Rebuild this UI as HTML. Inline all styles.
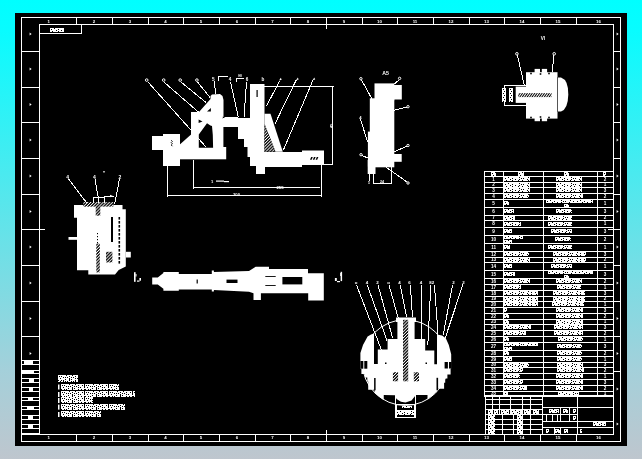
<!DOCTYPE html>
<html><head><meta charset="utf-8"><style>
html,body{margin:0;padding:0;width:642px;height:459px;overflow:hidden;}
body{background:linear-gradient(180deg,#00ffff 0px,#08fcff 30px,#60e4ea 220px,#a4d0da 370px,#bec6ce 459px);}
svg{position:absolute;left:0;top:0;will-change:transform;font-family:"Liberation Sans",sans-serif;}
</style></head><body>
<svg width="642" height="459" viewBox="0 0 642 459">
<rect x="15" y="13" width="612" height="433" fill="#000" />
<rect x="21" y="17" width="600" height="1" fill="#fff"/>
<rect x="21" y="441" width="600" height="1" fill="#fff"/>
<rect x="21" y="17" width="1" height="425" fill="#fff"/>
<rect x="620" y="17" width="1" height="425" fill="#fff"/>
<rect x="39" y="24" width="575" height="1" fill="#fff"/>
<rect x="21" y="434" width="593" height="1" fill="#fff"/>
<rect x="39" y="24" width="1" height="411" fill="#fff"/>
<rect x="613" y="24" width="1" height="411" fill="#fff"/>
<rect x="76" y="17" width="1" height="8" fill="#fff"/>
<rect x="76" y="434" width="1" height="8" fill="#fff"/>
<rect x="112" y="17" width="1" height="8" fill="#fff"/>
<rect x="112" y="434" width="1" height="8" fill="#fff"/>
<rect x="148" y="17" width="1" height="8" fill="#fff"/>
<rect x="148" y="434" width="1" height="8" fill="#fff"/>
<rect x="183" y="17" width="1" height="8" fill="#fff"/>
<rect x="183" y="434" width="1" height="8" fill="#fff"/>
<rect x="219" y="17" width="1" height="8" fill="#fff"/>
<rect x="219" y="434" width="1" height="8" fill="#fff"/>
<rect x="255" y="17" width="1" height="8" fill="#fff"/>
<rect x="255" y="434" width="1" height="8" fill="#fff"/>
<rect x="290" y="17" width="1" height="8" fill="#fff"/>
<rect x="290" y="434" width="1" height="8" fill="#fff"/>
<rect x="326" y="17" width="1" height="8" fill="#fff"/>
<rect x="326" y="434" width="1" height="8" fill="#fff"/>
<rect x="362" y="17" width="1" height="8" fill="#fff"/>
<rect x="362" y="434" width="1" height="8" fill="#fff"/>
<rect x="397" y="17" width="1" height="8" fill="#fff"/>
<rect x="397" y="434" width="1" height="8" fill="#fff"/>
<rect x="433" y="17" width="1" height="8" fill="#fff"/>
<rect x="433" y="434" width="1" height="8" fill="#fff"/>
<rect x="469" y="17" width="1" height="8" fill="#fff"/>
<rect x="469" y="434" width="1" height="8" fill="#fff"/>
<rect x="504" y="17" width="1" height="8" fill="#fff"/>
<rect x="504" y="434" width="1" height="8" fill="#fff"/>
<rect x="540" y="17" width="1" height="8" fill="#fff"/>
<rect x="540" y="434" width="1" height="8" fill="#fff"/>
<rect x="576" y="17" width="1" height="8" fill="#fff"/>
<rect x="576" y="434" width="1" height="8" fill="#fff"/>
<rect x="326" y="24" width="1" height="5" fill="#fff"/>
<rect x="326" y="430" width="1" height="5" fill="#fff"/>
<rect x="21" y="51" width="19" height="1" fill="#fff"/>
<rect x="613" y="51" width="8" height="1" fill="#fff"/>
<rect x="21" y="87" width="19" height="1" fill="#fff"/>
<rect x="613" y="87" width="8" height="1" fill="#fff"/>
<rect x="21" y="122" width="19" height="1" fill="#fff"/>
<rect x="613" y="122" width="8" height="1" fill="#fff"/>
<rect x="21" y="158" width="19" height="1" fill="#fff"/>
<rect x="613" y="158" width="8" height="1" fill="#fff"/>
<rect x="21" y="194" width="19" height="1" fill="#fff"/>
<rect x="613" y="194" width="8" height="1" fill="#fff"/>
<rect x="21" y="229" width="19" height="1" fill="#fff"/>
<rect x="613" y="229" width="8" height="1" fill="#fff"/>
<rect x="21" y="265" width="19" height="1" fill="#fff"/>
<rect x="613" y="265" width="8" height="1" fill="#fff"/>
<rect x="21" y="301" width="19" height="1" fill="#fff"/>
<rect x="613" y="301" width="8" height="1" fill="#fff"/>
<rect x="21" y="336" width="19" height="1" fill="#fff"/>
<rect x="613" y="336" width="8" height="1" fill="#fff"/>
<rect x="39" y="229" width="6" height="1" fill="#fff"/>
<rect x="608" y="229" width="6" height="1" fill="#fff"/>
<text x="48.8" y="22.6" font-size="4.4" fill="#fff" text-anchor="middle" font-weight="bold">1</text>
<text x="48.8" y="439.2" font-size="4.4" fill="#fff" text-anchor="middle" font-weight="bold">1</text>
<text x="94.0" y="22.6" font-size="4.4" fill="#fff" text-anchor="middle" font-weight="bold">2</text>
<text x="94.0" y="439.2" font-size="4.4" fill="#fff" text-anchor="middle" font-weight="bold">2</text>
<text x="130.0" y="22.6" font-size="4.4" fill="#fff" text-anchor="middle" font-weight="bold">3</text>
<text x="130.0" y="439.2" font-size="4.4" fill="#fff" text-anchor="middle" font-weight="bold">3</text>
<text x="165.5" y="22.6" font-size="4.4" fill="#fff" text-anchor="middle" font-weight="bold">4</text>
<text x="165.5" y="439.2" font-size="4.4" fill="#fff" text-anchor="middle" font-weight="bold">4</text>
<text x="201.0" y="22.6" font-size="4.4" fill="#fff" text-anchor="middle" font-weight="bold">5</text>
<text x="201.0" y="439.2" font-size="4.4" fill="#fff" text-anchor="middle" font-weight="bold">5</text>
<text x="237.0" y="22.6" font-size="4.4" fill="#fff" text-anchor="middle" font-weight="bold">6</text>
<text x="237.0" y="439.2" font-size="4.4" fill="#fff" text-anchor="middle" font-weight="bold">6</text>
<text x="272.5" y="22.6" font-size="4.4" fill="#fff" text-anchor="middle" font-weight="bold">7</text>
<text x="272.5" y="439.2" font-size="4.4" fill="#fff" text-anchor="middle" font-weight="bold">7</text>
<text x="308.0" y="22.6" font-size="4.4" fill="#fff" text-anchor="middle" font-weight="bold">8</text>
<text x="308.0" y="439.2" font-size="4.4" fill="#fff" text-anchor="middle" font-weight="bold">8</text>
<text x="344.0" y="22.6" font-size="4.4" fill="#fff" text-anchor="middle" font-weight="bold">9</text>
<text x="344.0" y="439.2" font-size="4.4" fill="#fff" text-anchor="middle" font-weight="bold">9</text>
<text x="379.5" y="22.6" font-size="4.4" fill="#fff" text-anchor="middle" font-weight="bold">10</text>
<text x="379.5" y="439.2" font-size="4.4" fill="#fff" text-anchor="middle" font-weight="bold">10</text>
<text x="415.0" y="22.6" font-size="4.4" fill="#fff" text-anchor="middle" font-weight="bold">11</text>
<text x="415.0" y="439.2" font-size="4.4" fill="#fff" text-anchor="middle" font-weight="bold">11</text>
<text x="451.0" y="22.6" font-size="4.4" fill="#fff" text-anchor="middle" font-weight="bold">12</text>
<text x="451.0" y="439.2" font-size="4.4" fill="#fff" text-anchor="middle" font-weight="bold">12</text>
<text x="486.5" y="22.6" font-size="4.4" fill="#fff" text-anchor="middle" font-weight="bold">13</text>
<text x="486.5" y="439.2" font-size="4.4" fill="#fff" text-anchor="middle" font-weight="bold">13</text>
<text x="522.0" y="22.6" font-size="4.4" fill="#fff" text-anchor="middle" font-weight="bold">14</text>
<text x="522.0" y="439.2" font-size="4.4" fill="#fff" text-anchor="middle" font-weight="bold">14</text>
<text x="558.0" y="22.6" font-size="4.4" fill="#fff" text-anchor="middle" font-weight="bold">15</text>
<text x="558.0" y="439.2" font-size="4.4" fill="#fff" text-anchor="middle" font-weight="bold">15</text>
<text x="598.5" y="22.6" font-size="4.4" fill="#fff" text-anchor="middle" font-weight="bold">16</text>
<text x="598.5" y="439.2" font-size="4.4" fill="#fff" text-anchor="middle" font-weight="bold">16</text>
<path d="M29.6,32.4 l2,1.6 l-2,1.6 z" fill="#fff"/>
<path d="M616.6,32.4 l2,1.6 l-2,1.6 z" fill="#fff"/>
<path d="M29.6,67.4 l2,1.6 l-2,1.6 z" fill="#fff"/>
<path d="M616.6,67.4 l2,1.6 l-2,1.6 z" fill="#fff"/>
<path d="M29.6,102.9 l2,1.6 l-2,1.6 z" fill="#fff"/>
<path d="M616.6,102.9 l2,1.6 l-2,1.6 z" fill="#fff"/>
<path d="M29.6,138.4 l2,1.6 l-2,1.6 z" fill="#fff"/>
<path d="M616.6,138.4 l2,1.6 l-2,1.6 z" fill="#fff"/>
<path d="M29.6,174.4 l2,1.6 l-2,1.6 z" fill="#fff"/>
<path d="M616.6,174.4 l2,1.6 l-2,1.6 z" fill="#fff"/>
<path d="M29.6,209.9 l2,1.6 l-2,1.6 z" fill="#fff"/>
<path d="M616.6,209.9 l2,1.6 l-2,1.6 z" fill="#fff"/>
<path d="M29.6,245.4 l2,1.6 l-2,1.6 z" fill="#fff"/>
<path d="M616.6,245.4 l2,1.6 l-2,1.6 z" fill="#fff"/>
<path d="M29.6,281.4 l2,1.6 l-2,1.6 z" fill="#fff"/>
<path d="M616.6,281.4 l2,1.6 l-2,1.6 z" fill="#fff"/>
<path d="M29.6,316.9 l2,1.6 l-2,1.6 z" fill="#fff"/>
<path d="M616.6,316.9 l2,1.6 l-2,1.6 z" fill="#fff"/>
<path d="M29.6,351.9 l2,1.6 l-2,1.6 z" fill="#fff"/>
<path d="M616.6,351.9 l2,1.6 l-2,1.6 z" fill="#fff"/>
<path d="M616.6,387.4 l2,1.6 l-2,1.6 z" fill="#fff"/>
<path d="M616.6,422.4 l2,1.6 l-2,1.6 z" fill="#fff"/>
<rect x="613" y="371" width="8" height="1" fill="#fff"/>
<rect x="39" y="33" width="43" height="1" fill="#fff"/>
<rect x="81" y="24" width="1" height="10" fill="#fff"/>
<rect x="22" y="360" width="18" height="1" fill="#fff"/>
<rect x="22" y="364" width="18" height="1" fill="#fff"/>
<rect x="22" y="370" width="18" height="1" fill="#fff"/>
<rect x="22" y="373" width="18" height="1" fill="#fff"/>
<rect x="22" y="378" width="18" height="1" fill="#fff"/>
<rect x="22" y="382" width="18" height="1" fill="#fff"/>
<rect x="22" y="387" width="18" height="1" fill="#fff"/>
<rect x="22" y="391" width="18" height="1" fill="#fff"/>
<rect x="22" y="397" width="18" height="1" fill="#fff"/>
<rect x="22" y="400" width="18" height="1" fill="#fff"/>
<rect x="22" y="406" width="18" height="1" fill="#fff"/>
<rect x="22" y="409" width="18" height="1" fill="#fff"/>
<rect x="22" y="415" width="18" height="1" fill="#fff"/>
<rect x="22" y="419" width="18" height="1" fill="#fff"/>
<rect x="22" y="424" width="18" height="1" fill="#fff"/>
<rect x="22" y="428" width="18" height="1" fill="#fff"/>
<rect x="22" y="433" width="18" height="1" fill="#fff"/>
<rect x="24" y="361" width="9" height="3" fill="#fff" />
<rect x="22" y="371" width="12" height="2" fill="#fff" />
<rect x="29" y="379" width="5" height="3" fill="#fff" />
<rect x="29" y="388" width="4" height="3" fill="#fff" />
<rect x="28" y="398" width="5" height="2" fill="#fff" />
<rect x="27" y="407" width="7" height="2" fill="#fff" />
<rect x="28" y="416" width="5" height="3" fill="#fff" />
<rect x="28" y="425" width="5" height="3" fill="#fff" />
<defs><pattern id="tx" patternUnits="userSpaceOnUse" x="0" y="0" width="30" height="4"><rect width="30" height="4" fill="#000"/><rect x="0" y="0" width="4" height="1" fill="#fff"/><rect x="5" y="0" width="10" height="1" fill="#fff"/><rect x="16" y="0" width="8" height="1" fill="#fff"/><rect x="25" y="0" width="5" height="1" fill="#fff"/><rect x="0" y="1" width="1" height="1" fill="#fff"/><rect x="2" y="1" width="6" height="1" fill="#fff"/><rect x="9" y="1" width="8" height="1" fill="#fff"/><rect x="18" y="1" width="1" height="1" fill="#fff"/><rect x="20" y="1" width="7" height="1" fill="#fff"/><rect x="28" y="1" width="2" height="1" fill="#fff"/><rect x="0" y="2" width="6" height="1" fill="#fff"/><rect x="7" y="2" width="4" height="1" fill="#fff"/><rect x="12" y="2" width="3" height="1" fill="#fff"/><rect x="16" y="2" width="7" height="1" fill="#fff"/><rect x="24" y="2" width="6" height="1" fill="#fff"/><rect x="0" y="3" width="2" height="1" fill="#fff"/><rect x="3" y="3" width="5" height="1" fill="#fff"/><rect x="9" y="3" width="5" height="1" fill="#fff"/><rect x="15" y="3" width="3" height="1" fill="#fff"/><rect x="19" y="3" width="5" height="1" fill="#fff"/><rect x="25" y="3" width="2" height="1" fill="#fff"/><rect x="28" y="3" width="2" height="1" fill="#fff"/></pattern><pattern id="cjk" patternUnits="userSpaceOnUse" x="0" y="0" width="24" height="7"><rect width="24" height="7" fill="#000"/><rect x="0" y="0" width="8" height="1" fill="#fff"/><rect x="9" y="0" width="5" height="1" fill="#fff"/><rect x="15" y="0" width="8" height="1" fill="#fff"/><rect x="0" y="1" width="1" height="1" fill="#fff"/><rect x="2" y="1" width="1" height="1" fill="#fff"/><rect x="4" y="1" width="7" height="1" fill="#fff"/><rect x="12" y="1" width="5" height="1" fill="#fff"/><rect x="18" y="1" width="3" height="1" fill="#fff"/><rect x="22" y="1" width="1" height="1" fill="#fff"/><rect x="0" y="2" width="5" height="1" fill="#fff"/><rect x="6" y="2" width="1" height="1" fill="#fff"/><rect x="8" y="2" width="1" height="1" fill="#fff"/><rect x="10" y="2" width="3" height="1" fill="#fff"/><rect x="14" y="2" width="1" height="1" fill="#fff"/><rect x="16" y="2" width="7" height="1" fill="#fff"/><rect x="0" y="3" width="2" height="1" fill="#fff"/><rect x="3" y="3" width="8" height="1" fill="#fff"/><rect x="12" y="3" width="5" height="1" fill="#fff"/><rect x="18" y="3" width="1" height="1" fill="#fff"/><rect x="20" y="3" width="3" height="1" fill="#fff"/><rect x="0" y="4" width="7" height="1" fill="#fff"/><rect x="8" y="4" width="3" height="1" fill="#fff"/><rect x="12" y="4" width="1" height="1" fill="#fff"/><rect x="14" y="4" width="10" height="1" fill="#fff"/><rect x="1" y="5" width="2" height="1" fill="#fff"/><rect x="4" y="5" width="1" height="1" fill="#fff"/><rect x="6" y="5" width="5" height="1" fill="#fff"/><rect x="12" y="5" width="5" height="1" fill="#fff"/><rect x="18" y="5" width="2" height="1" fill="#fff"/><rect x="21" y="5" width="2" height="1" fill="#fff"/><rect x="0" y="6" width="2" height="1" fill="#fff"/><rect x="3" y="6" width="2" height="1" fill="#fff"/><rect x="6" y="6" width="1" height="1" fill="#fff"/><rect x="8" y="6" width="1" height="1" fill="#fff"/><rect x="10" y="6" width="3" height="1" fill="#fff"/><rect x="14" y="6" width="1" height="1" fill="#fff"/><rect x="16" y="6" width="1" height="1" fill="#fff"/><rect x="18" y="6" width="2" height="1" fill="#fff"/><rect x="21" y="6" width="2" height="1" fill="#fff"/></pattern></defs>
<g transform="translate(50,28)"><rect width="14" height="4" fill="url(#tx)"/></g>
<rect x="152" y="136" width="12" height="14" fill="#fff" />
<rect x="163" y="134" width="17" height="32" fill="#fff" />
<polygon points="179.5,144.8 190.8,134.8 192,134.8 192,147 179.5,147" fill="#fff" />
<rect x="178" y="147" width="48.2" height="12.3" fill="#fff" />
<polygon points="191,112 199,112 210.5,99 210.5,96 212,94.5 220,94 222.5,96 223.5,100 223.5,117 238,117 238,127 223.4,127 223.4,159 191,159" fill="#fff" />
<polygon points="198.8,134.5 207,123.2 210.4,125.5 212,126 212.8,135 213.1,147.7 198.8,147.7" fill="#000" />
<polygon points="198.6,119.5 202.5,121.5 198.6,123" fill="#000" />
<polygon points="207,111.6 210.9,108 210.9,111.6" fill="#000" />
<polygon points="222.8,116.5 226,118.5 222.8,119" fill="#000" />
<rect x="223" y="118" width="27" height="9" fill="#fff" />
<rect x="238" y="127" width="12" height="12" fill="#fff" />
<rect x="244" y="139" width="6" height="8" fill="#fff" />
<rect x="247.5" y="147" width="3" height="10" fill="#fff" />
<rect x="250" y="84" width="14.5" height="82" fill="#fff" />
<rect x="264" y="152" width="38" height="15" fill="#fff" />
<rect x="302" y="150.5" width="22" height="14.5" fill="#fff" />
<rect x="256" y="166" width="9" height="8" fill="#fff" />
<polygon points="264.5,113.8 270.5,113.8 282.8,151.8 275.5,151.8 264.5,124" fill="#fff" />
<defs><pattern id="hat" patternUnits="userSpaceOnUse" width="2.2" height="2.2" patternTransform="rotate(-45)"><rect width="2.2" height="2.2" fill="#000"/><rect width="2.2" height="0.9" fill="#fff"/></pattern><pattern id="hat2" patternUnits="userSpaceOnUse" width="2" height="2" patternTransform="rotate(-55)"><rect width="2" height="2" fill="#000"/><rect width="2" height="1" fill="#fff"/></pattern></defs>
<polygon points="264.5,124 264.5,151.8 275.5,151.8" fill="url(#hat)" />
<rect x="256.5" y="90" width="1.2" height="7" fill="#000" />
<path d="M310,159.8 l1.2,-2.9 l1.6,0 l-1.2,2.9 z" fill="#000"/>
<path d="M312.8,159.8 l1.2,-2.9 l1.6,0 l-1.2,2.9 z" fill="#000"/>
<path d="M315.6,159.8 l1.2,-2.9 l1.6,0 l-1.2,2.9 z" fill="#000"/>
<path d="M171.2,140.2 l1.2,1.2 l-1.2,1.2 l1.2,1.2 l-1.2,1.2 l1.2,1.2" stroke="#000" stroke-width="0.9" fill="none"/>
<line x1="148" y1="82" x2="206.5" y2="147.5" stroke="#fff" stroke-width="1" shape-rendering="crispEdges"/>
<line x1="164.5" y1="82.5" x2="199" y2="112.5" stroke="#fff" stroke-width="1" shape-rendering="crispEdges"/>
<line x1="181" y1="82" x2="206" y2="102.5" stroke="#fff" stroke-width="1" shape-rendering="crispEdges"/>
<line x1="197.5" y1="82" x2="210" y2="97.5" stroke="#fff" stroke-width="1" shape-rendering="crispEdges"/>
<line x1="214" y1="81" x2="216" y2="94" stroke="#fff" stroke-width="1" shape-rendering="crispEdges"/>
<line x1="230.5" y1="82" x2="238.4" y2="117.5" stroke="#fff" stroke-width="1" shape-rendering="crispEdges"/>
<line x1="246.5" y1="82" x2="244" y2="117.5" stroke="#fff" stroke-width="1" shape-rendering="crispEdges"/>
<line x1="279.7" y1="80.8" x2="266.5" y2="106" stroke="#fff" stroke-width="1" shape-rendering="crispEdges"/>
<line x1="296.4" y1="79.6" x2="274.9" y2="124" stroke="#fff" stroke-width="1" shape-rendering="crispEdges"/>
<line x1="313.2" y1="79.6" x2="283.3" y2="150.2" stroke="#fff" stroke-width="1" shape-rendering="crispEdges"/>
<circle cx="146.7" cy="80.1" r="1.3" fill="none" stroke="#fff" stroke-width="1"/>
<circle cx="163.7" cy="80.1" r="1.3" fill="none" stroke="#fff" stroke-width="1"/>
<circle cx="180.2" cy="80.1" r="1.3" fill="none" stroke="#fff" stroke-width="1"/>
<circle cx="196.9" cy="80.1" r="1.3" fill="none" stroke="#fff" stroke-width="1"/>
<text x="213.3" y="80.96" font-size="4.6" fill="#fff" text-anchor="middle" font-weight="bold">5</text>
<text x="230" y="81.16" font-size="4.6" fill="#fff" text-anchor="middle" font-weight="bold">4</text>
<text x="247" y="81.16" font-size="4.6" fill="#fff" text-anchor="middle" font-weight="bold">6</text>
<text x="263" y="81.16" font-size="4.6" fill="#fff" text-anchor="middle" font-weight="bold">b</text>
<path d="M279.0,80.4 L280.8,77.7 L281.7,79.7 Z" fill="#fff"/>
<path d="M296.0,80.2 L297.8,77.5 L298.7,79.5 Z" fill="#fff"/>
<path d="M312.5,80.2 L314.3,77.5 L315.2,79.5 Z" fill="#fff"/>
<text x="240" y="76.8" font-size="2.8" fill="#fff" text-anchor="middle" font-weight="bold" >H8</text>
<rect x="236" y="78" width="8" height="1" fill="#fff"/>
<rect x="236" y="78" width="1" height="4" fill="#fff"/>
<rect x="218" y="76" width="10" height="1" fill="#fff"/>
<rect x="218" y="76" width="1" height="5" fill="#fff"/>
<rect x="264" y="86" width="70" height="1" fill="#fff"/>
<rect x="332" y="86" width="1" height="79" fill="#fff"/>
<rect x="322" y="164" width="11" height="1" fill="#fff"/>
<text x="332.5" y="126" font-size="4.2" fill="#fff" text-anchor="middle" font-weight="bold" transform="rotate(-90 332.5 126)">45</text>
<rect x="193" y="187" width="127" height="1" fill="#fff"/>
<rect x="167" y="195" width="155" height="1" fill="#fff"/>
<rect x="167" y="166" width="1" height="31" fill="#fff"/>
<rect x="193" y="160" width="1" height="29" fill="#fff"/>
<rect x="321" y="165" width="1" height="32" fill="#fff"/>
<text x="280" y="189" font-size="4.2" fill="#fff" text-anchor="middle" font-weight="bold" >255</text>
<text x="236.5" y="195.5" font-size="4.2" fill="#fff" text-anchor="middle" font-weight="bold" >300</text>
<text x="212" y="182.6" font-size="4" fill="#fff" text-anchor="middle" font-weight="bold" >1</text>
<rect x="216" y="180.5" width="8" height="1.2" fill="#fff" />
<rect x="224" y="181" width="5" height="1.2" fill="#fff" />
<rect x="374.5" y="83.4" width="19.8" height="17" fill="#fff" />
<rect x="393" y="85" width="8.8" height="14.5" fill="#fff" />
<rect x="369.8" y="98.3" width="24.5" height="69" fill="#fff" />
<rect x="367.9" y="131.6" width="3" height="35" fill="#fff" />
<rect x="393.9" y="154" width="7.8" height="7.8" fill="#fff" />
<rect x="367.7" y="160" width="7.8" height="14" fill="#fff" />
<line x1="361.5" y1="80" x2="372" y2="99" stroke="#fff" stroke-width="1" shape-rendering="crispEdges"/>
<line x1="399" y1="80" x2="393.2" y2="84.8" stroke="#fff" stroke-width="1" shape-rendering="crispEdges"/>
<line x1="407" y1="107" x2="394" y2="110.3" stroke="#fff" stroke-width="1" shape-rendering="crispEdges"/>
<line x1="360.5" y1="119" x2="367.5" y2="142" stroke="#fff" stroke-width="1" shape-rendering="crispEdges"/>
<line x1="362" y1="155.5" x2="368" y2="158" stroke="#fff" stroke-width="1" shape-rendering="crispEdges"/>
<line x1="407" y1="146" x2="394" y2="152" stroke="#fff" stroke-width="1" shape-rendering="crispEdges"/>
<line x1="407" y1="182" x2="383" y2="165" stroke="#fff" stroke-width="1" shape-rendering="crispEdges"/>
<line x1="369" y1="181" x2="370" y2="174" stroke="#fff" stroke-width="1" shape-rendering="crispEdges"/>
<circle cx="360.9" cy="78.7" r="1.2" fill="none" stroke="#fff" stroke-width="1"/>
<circle cx="399.6" cy="78.4" r="1.2" fill="none" stroke="#fff" stroke-width="1"/>
<circle cx="408" cy="106.7" r="1.2" fill="none" stroke="#fff" stroke-width="1"/>
<circle cx="361" cy="154.7" r="1.2" fill="none" stroke="#fff" stroke-width="1"/>
<circle cx="408" cy="145.5" r="1.2" fill="none" stroke="#fff" stroke-width="1"/>
<circle cx="408" cy="183" r="1.2" fill="none" stroke="#fff" stroke-width="1"/>
<text x="360.5" y="118.81" font-size="4.2" fill="#fff" text-anchor="middle" font-weight="bold">4</text>
<text x="369" y="184.01" font-size="4.2" fill="#fff" text-anchor="middle" font-weight="bold">1</text>
<text x="385.5" y="75.37" font-size="5.2" fill="#fff" text-anchor="middle" font-weight="bold">A5</text>
<rect x="373" y="167" width="1" height="17" fill="#fff"/>
<rect x="391" y="166" width="1" height="18" fill="#fff"/>
<rect x="373" y="183" width="19" height="1" fill="#fff"/>
<text x="382" y="182.6" font-size="3.6" fill="#fff" text-anchor="middle" font-weight="bold" >24</text>
<text x="543" y="40.16" font-size="4.6" fill="#fff" text-anchor="middle" font-weight="bold">VI</text>
<line x1="517.5" y1="55.5" x2="524.2" y2="85" stroke="#fff" stroke-width="1" shape-rendering="crispEdges"/>
<line x1="554" y1="55.5" x2="552.1" y2="72.4" stroke="#fff" stroke-width="1" shape-rendering="crispEdges"/>
<circle cx="516.9" cy="53.8" r="1.3" fill="none" stroke="#fff" stroke-width="1"/>
<circle cx="554.2" cy="53.8" r="1.3" fill="none" stroke="#fff" stroke-width="1"/>
<rect x="526" y="72.2" width="31.5" height="46.4" fill="#fff" />
<rect x="534.6" y="68.9" width="5.4" height="4" fill="#fff" />
<rect x="541.8" y="68.9" width="5.3" height="4" fill="#fff" />
<rect x="534.6" y="118" width="5.4" height="3.2" fill="#fff" />
<rect x="541.8" y="118" width="5.3" height="3.2" fill="#fff" />
<path d="M557.5,77.4 L561,77.4 Q568.5,80 568.3,94.4 Q568,109 561,111.4 L557.5,111.4 Z" fill="#fff"/>
<rect x="557" y="77" width="1" height="35" fill="#555"/>
<rect x="515.7" y="86.6" width="11" height="16.3" fill="#fff" />
<rect x="518.3" y="93.1" width="33.3" height="4" fill="url(#hat2)" />
<rect x="504" y="85" width="23" height="1" fill="#fff"/>
<rect x="504" y="105" width="23" height="1" fill="#fff"/>
<rect x="504" y="85" width="1" height="21" fill="#fff"/>
<g transform="translate(502,88)"><rect width="4" height="14" fill="url(#tx)"/></g>
<g transform="translate(509,88)"><rect width="4" height="14" fill="url(#tx)"/></g>
<rect x="530.2" y="72.7" width="1.6" height="1.6" fill="#000" />
<rect x="539.7" y="73.2" width="1.6" height="1.6" fill="#000" />
<rect x="548.2" y="72.7" width="1.6" height="1.6" fill="#000" />
<rect x="530.2" y="116.7" width="1.6" height="1.6" fill="#000" />
<rect x="539.7" y="116.2" width="1.6" height="1.6" fill="#000" />
<rect x="548.2" y="116.7" width="1.6" height="1.6" fill="#000" />
<polygon points="74,205 122.5,205 122.5,209.2 125.8,209.2 125.8,266.5 118.7,270 115,274.5 88.3,274.5 88.3,270.2 77,270.2 77,217.7 74,217.7" fill="#fff" />
<rect x="125.8" y="251.8" width="5" height="5.7" fill="#fff" />
<rect x="68.5" y="237" width="8.5" height="2.8" fill="#fff" />
<rect x="83.3" y="202" width="30" height="4.6" fill="url(#hat)" />
<rect x="95.7" y="205" width="4.6" height="10.7" fill="url(#hat)" />
<rect x="96.3" y="243.6" width="3.5" height="28.8" fill="url(#hat)" />
<rect x="97" y="233" width="1" height="1.2" fill="#000" />
<rect x="97" y="236" width="1" height="1.2" fill="#000" />
<rect x="97" y="239" width="1" height="1.2" fill="#000" />
<rect x="97" y="242" width="1" height="1.2" fill="#000" />
<rect x="106" y="251.8" width="6.4" height="10.6" fill="url(#hat)" />
<rect x="111" y="217" width="2" height="25" fill="#000" />
<rect x="118.5" y="217" width="1.6" height="2.6" fill="#000" />
<rect x="118.5" y="221" width="1.6" height="2.6" fill="#000" />
<rect x="118.5" y="225" width="1.6" height="2.6" fill="#000" />
<rect x="118.5" y="229" width="1.6" height="2.6" fill="#000" />
<rect x="118.5" y="233" width="1.6" height="2.6" fill="#000" />
<rect x="118.5" y="237" width="1.6" height="2.6" fill="#000" />
<rect x="118.5" y="241" width="1.6" height="2.6" fill="#000" />
<rect x="118.5" y="245" width="1.6" height="2.6" fill="#000" />
<rect x="118.5" y="249" width="1.6" height="2.6" fill="#000" />
<rect x="118.5" y="253" width="1.6" height="2.6" fill="#000" />
<rect x="118.5" y="257" width="1.6" height="2.6" fill="#000" />
<rect x="118.5" y="261" width="1.6" height="2.6" fill="#000" />
<rect x="93" y="197" width="12" height="1" fill="#fff"/>
<rect x="93" y="197" width="1" height="6" fill="#fff"/>
<rect x="104" y="197" width="1" height="6" fill="#fff"/>
<rect x="98" y="197" width="1" height="6" fill="#fff"/>
<line x1="68.5" y1="179" x2="86.5" y2="202.6" stroke="#fff" stroke-width="1" shape-rendering="crispEdges"/>
<line x1="95" y1="179" x2="98.3" y2="198" stroke="#fff" stroke-width="1" shape-rendering="crispEdges"/>
<line x1="119.5" y1="179" x2="114.6" y2="204" stroke="#fff" stroke-width="1" shape-rendering="crispEdges"/>
<text x="67.6" y="179.00" font-size="5" fill="#fff" text-anchor="middle" font-weight="bold">4</text>
<text x="94.4" y="179.00" font-size="5" fill="#fff" text-anchor="middle" font-weight="bold">4</text>
<text x="119.9" y="179.00" font-size="5" fill="#fff" text-anchor="middle" font-weight="bold">2</text>
<text x="104.2" y="175.10" font-size="5" fill="#fff" text-anchor="middle" font-weight="bold">"</text>
<rect x="104" y="196" width="10" height="1" fill="#fff"/>
<path d="M110,194.8 l3,1.2 l-3,1.2 z" fill="#fff"/>
<rect x="134" y="272.2" width="1.6" height="9.6" fill="#fff" />
<rect x="135.5" y="274" width="1" height="2.5" fill="#fff" />
<rect x="139.4" y="278" width="1.6" height="2.7" fill="#fff" />
<rect x="137" y="280.5" width="2.5" height="1.2" fill="#fff" />
<polygon points="152.2,277.5 157.8,277.5 163.4,273 163.4,271.9 178.8,271.9 178.8,274 211.8,274 211.8,270.5 213.9,270.5 213.9,271.9 249,271.1 255.7,266.7 269,266.7 269,268.9 308,268.9 308,273.3 323.8,273.3 323.8,300.5 308.2,300.5 308.2,293.3 260.9,293.3 260.9,300 253.5,300 253.5,293.3 249,291.8 213.9,290.1 213.9,291.5 211.8,291.5 211.8,289.4 178.8,289.4 178.8,290.8 163.4,290.8 163.4,288.7 157.8,284.5 152.2,284.5" fill="#fff" />
<rect x="226.5" y="279.6" width="11" height="3.4" fill="#000" />
<rect x="196.6" y="279.5" width="1.2" height="4" fill="#000" />
<rect x="282.4" y="277" width="19.9" height="7.4" fill="#000" />
<rect x="265.3" y="276" width="10.4" height="0.9" fill="#000" />
<rect x="265.3" y="285" width="10.4" height="0.9" fill="#000" />
<rect x="340.6" y="271.8" width="1.5" height="9.3" fill="#fff" />
<rect x="340" y="273" width="0.8" height="3" fill="#fff" />
<rect x="334.9" y="278" width="1.9" height="3" fill="#fff" />
<rect x="337" y="281" width="3" height="1.2" fill="#fff" />
<circle cx="405.3" cy="362.6" r="42.9" fill="none" stroke="#fff" stroke-width="1"/>
<polygon points="396,317.6 416,317.6 416,322 414.6,322 414.6,339 425.2,339 425.2,350.4 434.3,350.4 434.3,364.2 437,364.2 437,334.4 442,335.5 445.8,338.2 448.8,345.1 451.2,354.2 451.2,368.5 450.6,368.5 450.6,374.5 447.4,374.5 447.4,378.4 445.2,378.4 445.2,382.7 444.1,382.7 444.1,388.7 437.5,388.7 437.5,390.8 432,396 427.5,399.3 427.5,395 416.25,395 415.7,395.2 413.9,397.5 411.5,400.5 405.5,402.5 401,401.7 396.5,399 395.1,395.2 383.75,395 383.75,399.9 379,396.8 374.6,393 374.6,389.8 368.2,389.8 368.2,381.5 367.3,381.5 367.3,377.5 364.8,377.5 364.8,374.1 361.4,374.1 361.4,368.7 360.4,368.7 360.4,352.9 363,345 367.6,336.5 371,334.4 374,333.5 374,364 377.8,364 377.8,349.6 387.6,349.6 387.6,339 397.4,339 397.4,322 396,322" fill="#fff" />
<rect x="360.4" y="361" width="2.9" height="7.7" fill="#000" />
<rect x="364.3" y="361" width="3" height="7.7" fill="#000" />
<rect x="444.6" y="362" width="3.3" height="6.5" fill="#000" />
<rect x="449" y="362" width="2.7" height="6.5" fill="#000" />
<rect x="403" y="319.8" width="5.2" height="61.5" fill="url(#hat)" />
<rect x="392.9" y="372.2" width="5.2" height="9.1" fill="url(#hat)" />
<rect x="413.8" y="372.2" width="5.2" height="9.1" fill="url(#hat)" />
<rect x="385" y="362.5" width="1.5" height="1.5" fill="#000" />
<rect x="425.5" y="362.5" width="1.5" height="1.5" fill="#000" />
<rect x="374.1" y="378" width="1.5" height="12.3" fill="#000" />
<rect x="436.5" y="377.8" width="1.6" height="12.5" fill="#000" />
<rect x="395" y="395" width="1" height="23" fill="#fff"/>
<rect x="396" y="404" width="1" height="14" fill="#fff"/>
<rect x="414" y="404" width="1" height="14" fill="#fff"/>
<rect x="415" y="395" width="1" height="23" fill="#fff"/>
<rect x="395" y="404" width="21" height="1" fill="#fff"/>
<rect x="395" y="410" width="21" height="1" fill="#fff"/>
<rect x="395" y="417" width="21" height="1" fill="#fff"/>
<g transform="translate(402,406)"><rect width="10" height="2" fill="url(#tx)"/></g>
<g transform="translate(396,411)"><rect width="18" height="4" fill="url(#tx)"/></g>
<line x1="356.5" y1="285" x2="381.3" y2="349.6" stroke="#fff" stroke-width="1" shape-rendering="crispEdges"/>
<line x1="367.3" y1="285" x2="387" y2="340.5" stroke="#fff" stroke-width="1" shape-rendering="crispEdges"/>
<line x1="378" y1="285" x2="392.7" y2="338.3" stroke="#fff" stroke-width="1" shape-rendering="crispEdges"/>
<line x1="389" y1="285" x2="398.1" y2="317.7" stroke="#fff" stroke-width="1" shape-rendering="crispEdges"/>
<line x1="400.1" y1="284.6" x2="406.7" y2="317.4" stroke="#fff" stroke-width="1" shape-rendering="crispEdges"/>
<line x1="410.3" y1="284.6" x2="412.5" y2="317.4" stroke="#fff" stroke-width="1" shape-rendering="crispEdges"/>
<line x1="421.6" y1="284.6" x2="421.6" y2="338.6" stroke="#fff" stroke-width="1" shape-rendering="crispEdges"/>
<line x1="430.8" y1="284.6" x2="427.8" y2="345" stroke="#fff" stroke-width="1" shape-rendering="crispEdges"/>
<line x1="434.4" y1="284.6" x2="438" y2="333.5" stroke="#fff" stroke-width="1" shape-rendering="crispEdges"/>
<line x1="452.6" y1="284.6" x2="443.2" y2="334.9" stroke="#fff" stroke-width="1" shape-rendering="crispEdges"/>
<line x1="462.9" y1="284.6" x2="445.3" y2="337.8" stroke="#fff" stroke-width="1" shape-rendering="crispEdges"/>
<text x="356.1" y="283.88" font-size="4.4" fill="#fff" text-anchor="middle" font-weight="bold">o</text>
<text x="366.9" y="283.88" font-size="4.4" fill="#fff" text-anchor="middle" font-weight="bold">4</text>
<text x="377.4" y="283.88" font-size="4.4" fill="#fff" text-anchor="middle" font-weight="bold">2</text>
<text x="388.5" y="283.88" font-size="4.4" fill="#fff" text-anchor="middle" font-weight="bold">o</text>
<text x="399.4" y="283.88" font-size="4.4" fill="#fff" text-anchor="middle" font-weight="bold">4</text>
<text x="409.6" y="283.88" font-size="4.4" fill="#fff" text-anchor="middle" font-weight="bold">6</text>
<text x="421" y="283.88" font-size="4.4" fill="#fff" text-anchor="middle" font-weight="bold">4</text>
<text x="431.8" y="283.88" font-size="4.4" fill="#fff" text-anchor="middle" font-weight="bold">82</text>
<text x="453.4" y="283.88" font-size="4.4" fill="#fff" text-anchor="middle" font-weight="bold">2</text>
<text x="463.5" y="283.88" font-size="4.4" fill="#fff" text-anchor="middle" font-weight="bold">2</text>
<g transform="translate(58,375)"><rect width="20" height="7" fill="url(#cjk)"/></g>
<rect x="58" y="384.5" width="1.5" height="5" fill="#fff" />
<g transform="translate(61,384)"><rect width="58" height="6" fill="url(#cjk)"/></g>
<rect x="58" y="392" width="1.5" height="5" fill="#fff" />
<g transform="translate(61,391)"><rect width="74" height="6" fill="url(#cjk)"/></g>
<rect x="58" y="398" width="1.5" height="5" fill="#fff" />
<g transform="translate(61,397)"><rect width="32" height="6" fill="url(#cjk)"/></g>
<rect x="58" y="404.6" width="1.5" height="5" fill="#fff" />
<g transform="translate(61,404)"><rect width="64" height="6" fill="url(#cjk)"/></g>
<rect x="58" y="412" width="1.5" height="5" fill="#fff" />
<g transform="translate(61,411)"><rect width="40" height="6" fill="url(#cjk)"/></g>
<rect x="484" y="171" width="130" height="1" fill="#fff"/>
<rect x="484" y="176" width="130" height="1" fill="#fff"/>
<rect x="484" y="182" width="130" height="1" fill="#fff"/>
<rect x="484" y="187" width="130" height="1" fill="#fff"/>
<rect x="484" y="193" width="130" height="1" fill="#fff"/>
<rect x="484" y="199" width="130" height="1" fill="#fff"/>
<rect x="484" y="207" width="130" height="1" fill="#fff"/>
<rect x="484" y="215" width="130" height="1" fill="#fff"/>
<rect x="484" y="220" width="130" height="1" fill="#fff"/>
<rect x="484" y="227" width="130" height="1" fill="#fff"/>
<rect x="484" y="235" width="130" height="1" fill="#fff"/>
<rect x="484" y="243" width="130" height="1" fill="#fff"/>
<rect x="484" y="251" width="130" height="1" fill="#fff"/>
<rect x="484" y="257" width="130" height="1" fill="#fff"/>
<rect x="484" y="262" width="130" height="1" fill="#fff"/>
<rect x="484" y="270" width="130" height="1" fill="#fff"/>
<rect x="484" y="278" width="130" height="1" fill="#fff"/>
<rect x="484" y="284" width="130" height="1" fill="#fff"/>
<rect x="484" y="290" width="130" height="1" fill="#fff"/>
<rect x="484" y="296" width="130" height="1" fill="#fff"/>
<rect x="484" y="301" width="130" height="1" fill="#fff"/>
<rect x="484" y="307" width="130" height="1" fill="#fff"/>
<rect x="484" y="313" width="130" height="1" fill="#fff"/>
<rect x="484" y="319" width="130" height="1" fill="#fff"/>
<rect x="484" y="324" width="130" height="1" fill="#fff"/>
<rect x="484" y="330" width="130" height="1" fill="#fff"/>
<rect x="484" y="336" width="130" height="1" fill="#fff"/>
<rect x="484" y="342" width="130" height="1" fill="#fff"/>
<rect x="484" y="350" width="130" height="1" fill="#fff"/>
<rect x="484" y="356" width="130" height="1" fill="#fff"/>
<rect x="484" y="362" width="130" height="1" fill="#fff"/>
<rect x="484" y="367" width="130" height="1" fill="#fff"/>
<rect x="484" y="373" width="130" height="1" fill="#fff"/>
<rect x="484" y="379" width="130" height="1" fill="#fff"/>
<rect x="484" y="385" width="130" height="1" fill="#fff"/>
<rect x="484" y="391" width="130" height="1" fill="#fff"/>
<rect x="484" y="171" width="1" height="226" fill="#fff"/>
<rect x="503" y="171" width="1" height="226" fill="#fff"/>
<rect x="543" y="171" width="1" height="226" fill="#fff"/>
<rect x="597" y="171" width="1" height="226" fill="#fff"/>
<g transform="translate(504,177)"><rect width="26" height="4" fill="url(#tx)"/></g>
<g transform="translate(556,177)"><rect width="26" height="4" fill="url(#tx)"/></g>
<text x="493.6" y="180.86" font-size="4.6" fill="#fff" text-anchor="middle" font-weight="bold">1</text>
<text x="605" y="180.86" font-size="4.6" fill="#fff" text-anchor="middle" font-weight="bold">2</text>
<g transform="translate(504,183)"><rect width="26" height="4" fill="url(#tx)"/></g>
<g transform="translate(556,183)"><rect width="26" height="4" fill="url(#tx)"/></g>
<text x="493.6" y="186.36" font-size="4.6" fill="#fff" text-anchor="middle" font-weight="bold">2</text>
<text x="605" y="186.36" font-size="4.6" fill="#fff" text-anchor="middle" font-weight="bold">1</text>
<g transform="translate(504,188)"><rect width="26" height="4" fill="url(#tx)"/></g>
<g transform="translate(556,188)"><rect width="26" height="4" fill="url(#tx)"/></g>
<text x="493.6" y="191.86" font-size="4.6" fill="#fff" text-anchor="middle" font-weight="bold">3</text>
<text x="605" y="191.86" font-size="4.6" fill="#fff" text-anchor="middle" font-weight="bold">3</text>
<g transform="translate(504,194)"><rect width="25" height="4" fill="url(#tx)"/></g>
<g transform="translate(556,194)"><rect width="27" height="4" fill="url(#tx)"/></g>
<text x="493.6" y="197.86" font-size="4.6" fill="#fff" text-anchor="middle" font-weight="bold">4</text>
<text x="605" y="197.86" font-size="4.6" fill="#fff" text-anchor="middle" font-weight="bold">2</text>
<g transform="translate(504,201)"><rect width="5" height="4" fill="url(#tx)"/></g>
<g transform="translate(546,200)"><rect width="47" height="3" fill="url(#tx)"/></g>
<g transform="translate(564,204)"><rect width="5" height="3" fill="url(#tx)"/></g>
<text x="493.6" y="204.86" font-size="4.6" fill="#fff" text-anchor="middle" font-weight="bold">5</text>
<text x="605" y="204.86" font-size="4.6" fill="#fff" text-anchor="middle" font-weight="bold">1</text>
<g transform="translate(504,209)"><rect width="10" height="4" fill="url(#tx)"/></g>
<g transform="translate(556,209)"><rect width="16" height="4" fill="url(#tx)"/></g>
<text x="493.6" y="212.86" font-size="4.6" fill="#fff" text-anchor="middle" font-weight="bold">6</text>
<text x="605" y="212.86" font-size="4.6" fill="#fff" text-anchor="middle" font-weight="bold">3</text>
<g transform="translate(504,216)"><rect width="11" height="4" fill="url(#tx)"/></g>
<g transform="translate(548,216)"><rect width="24" height="4" fill="url(#tx)"/></g>
<text x="493.6" y="219.36" font-size="4.6" fill="#fff" text-anchor="middle" font-weight="bold">7</text>
<text x="605" y="219.36" font-size="4.6" fill="#fff" text-anchor="middle" font-weight="bold">2</text>
<g transform="translate(504,222)"><rect width="17" height="4" fill="url(#tx)"/></g>
<g transform="translate(548,222)"><rect width="24" height="4" fill="url(#tx)"/></g>
<text x="493.6" y="225.36" font-size="4.6" fill="#fff" text-anchor="middle" font-weight="bold">8</text>
<text x="605" y="225.36" font-size="4.6" fill="#fff" text-anchor="middle" font-weight="bold">1</text>
<g transform="translate(504,229)"><rect width="8" height="4" fill="url(#tx)"/></g>
<g transform="translate(551,229)"><rect width="21" height="4" fill="url(#tx)"/></g>
<text x="493.6" y="232.86" font-size="4.6" fill="#fff" text-anchor="middle" font-weight="bold">9</text>
<text x="605" y="232.86" font-size="4.6" fill="#fff" text-anchor="middle" font-weight="bold">3</text>
<g transform="translate(504,236)"><rect width="19" height="3" fill="url(#tx)"/></g>
<g transform="translate(504,240)"><rect width="8" height="3" fill="url(#tx)"/></g>
<g transform="translate(555,237)"><rect width="16" height="4" fill="url(#tx)"/></g>
<text x="493.6" y="240.86" font-size="4.6" fill="#fff" text-anchor="middle" font-weight="bold">10</text>
<text x="605" y="240.86" font-size="4.6" fill="#fff" text-anchor="middle" font-weight="bold">2</text>
<g transform="translate(504,245)"><rect width="6" height="4" fill="url(#tx)"/></g>
<g transform="translate(548,245)"><rect width="24" height="4" fill="url(#tx)"/></g>
<text x="493.6" y="248.86" font-size="4.6" fill="#fff" text-anchor="middle" font-weight="bold">11</text>
<text x="605" y="248.86" font-size="4.6" fill="#fff" text-anchor="middle" font-weight="bold">1</text>
<g transform="translate(504,252)"><rect width="25" height="4" fill="url(#tx)"/></g>
<g transform="translate(553,252)"><rect width="33" height="4" fill="url(#tx)"/></g>
<text x="493.6" y="255.86" font-size="4.6" fill="#fff" text-anchor="middle" font-weight="bold">12</text>
<text x="605" y="255.86" font-size="4.6" fill="#fff" text-anchor="middle" font-weight="bold">3</text>
<g transform="translate(504,258)"><rect width="26" height="4" fill="url(#tx)"/></g>
<g transform="translate(553,258)"><rect width="33" height="4" fill="url(#tx)"/></g>
<text x="493.6" y="261.36" font-size="4.6" fill="#fff" text-anchor="middle" font-weight="bold">13</text>
<text x="605" y="261.36" font-size="4.6" fill="#fff" text-anchor="middle" font-weight="bold">2</text>
<g transform="translate(504,264)"><rect width="8" height="4" fill="url(#tx)"/></g>
<g transform="translate(551,264)"><rect width="21" height="4" fill="url(#tx)"/></g>
<text x="493.6" y="267.86" font-size="4.6" fill="#fff" text-anchor="middle" font-weight="bold">14</text>
<text x="605" y="267.86" font-size="4.6" fill="#fff" text-anchor="middle" font-weight="bold">1</text>
<g transform="translate(504,272)"><rect width="11" height="4" fill="url(#tx)"/></g>
<g transform="translate(548,271)"><rect width="45" height="3" fill="url(#tx)"/></g>
<g transform="translate(564,275)"><rect width="5" height="3" fill="url(#tx)"/></g>
<text x="493.6" y="275.86" font-size="4.6" fill="#fff" text-anchor="middle" font-weight="bold">15</text>
<text x="605" y="275.86" font-size="4.6" fill="#fff" text-anchor="middle" font-weight="bold">3</text>
<g transform="translate(504,279)"><rect width="26" height="4" fill="url(#tx)"/></g>
<g transform="translate(556,279)"><rect width="26" height="4" fill="url(#tx)"/></g>
<text x="493.6" y="282.86" font-size="4.6" fill="#fff" text-anchor="middle" font-weight="bold">16</text>
<text x="605" y="282.86" font-size="4.6" fill="#fff" text-anchor="middle" font-weight="bold">2</text>
<g transform="translate(504,285)"><rect width="17" height="4" fill="url(#tx)"/></g>
<g transform="translate(557,285)"><rect width="24" height="4" fill="url(#tx)"/></g>
<text x="493.6" y="288.86" font-size="4.6" fill="#fff" text-anchor="middle" font-weight="bold">17</text>
<text x="605" y="288.86" font-size="4.6" fill="#fff" text-anchor="middle" font-weight="bold">1</text>
<g transform="translate(504,291)"><rect width="34" height="4" fill="url(#tx)"/></g>
<g transform="translate(553,291)"><rect width="32" height="4" fill="url(#tx)"/></g>
<text x="493.6" y="294.86" font-size="4.6" fill="#fff" text-anchor="middle" font-weight="bold">18</text>
<text x="605" y="294.86" font-size="4.6" fill="#fff" text-anchor="middle" font-weight="bold">3</text>
<g transform="translate(504,297)"><rect width="34" height="4" fill="url(#tx)"/></g>
<g transform="translate(553,297)"><rect width="32" height="4" fill="url(#tx)"/></g>
<text x="493.6" y="300.36" font-size="4.6" fill="#fff" text-anchor="middle" font-weight="bold">19</text>
<text x="605" y="300.36" font-size="4.6" fill="#fff" text-anchor="middle" font-weight="bold">2</text>
<g transform="translate(504,302)"><rect width="34" height="4" fill="url(#tx)"/></g>
<g transform="translate(552,302)"><rect width="32" height="4" fill="url(#tx)"/></g>
<text x="493.6" y="305.86" font-size="4.6" fill="#fff" text-anchor="middle" font-weight="bold">20</text>
<text x="605" y="305.86" font-size="4.6" fill="#fff" text-anchor="middle" font-weight="bold">1</text>
<g transform="translate(504,308)"><rect width="3" height="4" fill="url(#tx)"/></g>
<g transform="translate(556,308)"><rect width="27" height="4" fill="url(#tx)"/></g>
<text x="493.6" y="311.86" font-size="4.6" fill="#fff" text-anchor="middle" font-weight="bold">21</text>
<text x="605" y="311.86" font-size="4.6" fill="#fff" text-anchor="middle" font-weight="bold">3</text>
<g transform="translate(504,314)"><rect width="5" height="4" fill="url(#tx)"/></g>
<g transform="translate(556,314)"><rect width="27" height="4" fill="url(#tx)"/></g>
<text x="493.6" y="317.86" font-size="4.6" fill="#fff" text-anchor="middle" font-weight="bold">22</text>
<text x="605" y="317.86" font-size="4.6" fill="#fff" text-anchor="middle" font-weight="bold">2</text>
<g transform="translate(504,320)"><rect width="5" height="4" fill="url(#tx)"/></g>
<g transform="translate(556,320)"><rect width="27" height="4" fill="url(#tx)"/></g>
<text x="493.6" y="323.36" font-size="4.6" fill="#fff" text-anchor="middle" font-weight="bold">23</text>
<text x="605" y="323.36" font-size="4.6" fill="#fff" text-anchor="middle" font-weight="bold">1</text>
<g transform="translate(504,325)"><rect width="27" height="4" fill="url(#tx)"/></g>
<g transform="translate(554,325)"><rect width="29" height="4" fill="url(#tx)"/></g>
<text x="493.6" y="328.86" font-size="4.6" fill="#fff" text-anchor="middle" font-weight="bold">24</text>
<text x="605" y="328.86" font-size="4.6" fill="#fff" text-anchor="middle" font-weight="bold">3</text>
<g transform="translate(504,331)"><rect width="22" height="4" fill="url(#tx)"/></g>
<g transform="translate(554,331)"><rect width="29" height="4" fill="url(#tx)"/></g>
<text x="493.6" y="334.86" font-size="4.6" fill="#fff" text-anchor="middle" font-weight="bold">25</text>
<text x="605" y="334.86" font-size="4.6" fill="#fff" text-anchor="middle" font-weight="bold">2</text>
<g transform="translate(504,337)"><rect width="5" height="4" fill="url(#tx)"/></g>
<g transform="translate(558,337)"><rect width="25" height="4" fill="url(#tx)"/></g>
<text x="493.6" y="340.86" font-size="4.6" fill="#fff" text-anchor="middle" font-weight="bold">26</text>
<text x="605" y="340.86" font-size="4.6" fill="#fff" text-anchor="middle" font-weight="bold">1</text>
<g transform="translate(504,343)"><rect width="34" height="3" fill="url(#tx)"/></g>
<g transform="translate(504,347)"><rect width="8" height="3" fill="url(#tx)"/></g>
<g transform="translate(557,344)"><rect width="25" height="4" fill="url(#tx)"/></g>
<text x="493.6" y="347.86" font-size="4.6" fill="#fff" text-anchor="middle" font-weight="bold">27</text>
<text x="605" y="347.86" font-size="4.6" fill="#fff" text-anchor="middle" font-weight="bold">3</text>
<g transform="translate(504,351)"><rect width="5" height="4" fill="url(#tx)"/></g>
<g transform="translate(557,351)"><rect width="25" height="4" fill="url(#tx)"/></g>
<text x="493.6" y="354.86" font-size="4.6" fill="#fff" text-anchor="middle" font-weight="bold">28</text>
<text x="605" y="354.86" font-size="4.6" fill="#fff" text-anchor="middle" font-weight="bold">2</text>
<g transform="translate(504,357)"><rect width="8" height="4" fill="url(#tx)"/></g>
<g transform="translate(557,357)"><rect width="25" height="4" fill="url(#tx)"/></g>
<text x="493.6" y="360.86" font-size="4.6" fill="#fff" text-anchor="middle" font-weight="bold">29</text>
<text x="605" y="360.86" font-size="4.6" fill="#fff" text-anchor="middle" font-weight="bold">1</text>
<g transform="translate(504,363)"><rect width="25" height="4" fill="url(#tx)"/></g>
<g transform="translate(557,363)"><rect width="26" height="4" fill="url(#tx)"/></g>
<text x="493.6" y="366.36" font-size="4.6" fill="#fff" text-anchor="middle" font-weight="bold">30</text>
<text x="605" y="366.36" font-size="4.6" fill="#fff" text-anchor="middle" font-weight="bold">3</text>
<g transform="translate(504,368)"><rect width="19" height="4" fill="url(#tx)"/></g>
<g transform="translate(557,368)"><rect width="27" height="4" fill="url(#tx)"/></g>
<text x="493.6" y="371.86" font-size="4.6" fill="#fff" text-anchor="middle" font-weight="bold">31</text>
<text x="605" y="371.86" font-size="4.6" fill="#fff" text-anchor="middle" font-weight="bold">2</text>
<g transform="translate(504,374)"><rect width="16" height="4" fill="url(#tx)"/></g>
<g transform="translate(556,374)"><rect width="27" height="4" fill="url(#tx)"/></g>
<text x="493.6" y="377.86" font-size="4.6" fill="#fff" text-anchor="middle" font-weight="bold">32</text>
<text x="605" y="377.86" font-size="4.6" fill="#fff" text-anchor="middle" font-weight="bold">1</text>
<g transform="translate(504,380)"><rect width="19" height="4" fill="url(#tx)"/></g>
<g transform="translate(556,380)"><rect width="27" height="4" fill="url(#tx)"/></g>
<text x="493.6" y="383.86" font-size="4.6" fill="#fff" text-anchor="middle" font-weight="bold">33</text>
<text x="605" y="383.86" font-size="4.6" fill="#fff" text-anchor="middle" font-weight="bold">3</text>
<g transform="translate(504,386)"><rect width="23" height="4" fill="url(#tx)"/></g>
<g transform="translate(556,386)"><rect width="27" height="4" fill="url(#tx)"/></g>
<text x="493.6" y="389.86" font-size="4.6" fill="#fff" text-anchor="middle" font-weight="bold">34</text>
<text x="605" y="389.86" font-size="4.6" fill="#fff" text-anchor="middle" font-weight="bold">2</text>
<g transform="translate(504,392)"><rect width="4" height="3" fill="url(#tx)"/></g>
<g transform="translate(558,392)"><rect width="21" height="3" fill="url(#tx)"/></g>
<text x="493.6" y="394.86" font-size="4.6" fill="#fff" text-anchor="middle" font-weight="bold">35</text>
<text x="605" y="394.86" font-size="4.6" fill="#fff" text-anchor="middle" font-weight="bold">1</text>
<g transform="translate(491,172)"><rect width="5" height="4" fill="url(#tx)"/></g>
<g transform="translate(518,172)"><rect width="6" height="4" fill="url(#tx)"/></g>
<g transform="translate(564,172)"><rect width="5" height="4" fill="url(#tx)"/></g>
<g transform="translate(603,172)"><rect width="3" height="4" fill="url(#tx)"/></g>
<rect x="484" y="395" width="130" height="1" fill="#fff"/>
<rect x="485" y="396" width="129" height="1" fill="#fff"/>
<rect x="485" y="396" width="1" height="39" fill="#fff"/>
<rect x="485" y="399" width="58" height="1" fill="#fff"/>
<rect x="485" y="404" width="58" height="1" fill="#fff"/>
<rect x="485" y="409" width="58" height="1" fill="#fff"/>
<rect x="485" y="414" width="58" height="1" fill="#fff"/>
<rect x="485" y="419" width="58" height="1" fill="#fff"/>
<rect x="485" y="424" width="58" height="1" fill="#fff"/>
<rect x="485" y="429" width="58" height="1" fill="#fff"/>
<rect x="492" y="396" width="1" height="19" fill="#fff"/>
<rect x="499" y="396" width="1" height="19" fill="#fff"/>
<rect x="510" y="396" width="1" height="19" fill="#fff"/>
<rect x="522" y="396" width="1" height="19" fill="#fff"/>
<rect x="530" y="396" width="1" height="19" fill="#fff"/>
<rect x="493" y="414" width="1" height="21" fill="#fff"/>
<rect x="502" y="414" width="1" height="21" fill="#fff"/>
<rect x="513" y="414" width="1" height="21" fill="#fff"/>
<rect x="522" y="414" width="1" height="21" fill="#fff"/>
<rect x="530" y="414" width="1" height="21" fill="#fff"/>
<rect x="542" y="396" width="1" height="39" fill="#fff"/>
<rect x="577" y="396" width="1" height="39" fill="#fff"/>
<rect x="542" y="407" width="72" height="1" fill="#fff"/>
<rect x="542" y="414" width="36" height="1" fill="#fff"/>
<rect x="542" y="421" width="72" height="1" fill="#fff"/>
<rect x="542" y="427" width="72" height="1" fill="#fff"/>
<rect x="560" y="407" width="1" height="15" fill="#fff"/>
<rect x="569" y="407" width="1" height="15" fill="#fff"/>
<rect x="546" y="414" width="1" height="8" fill="#fff"/>
<rect x="552" y="414" width="1" height="8" fill="#fff"/>
<rect x="557" y="414" width="1" height="8" fill="#fff"/>
<rect x="554" y="427" width="1" height="8" fill="#fff"/>
<rect x="560" y="427" width="1" height="8" fill="#fff"/>
<g transform="translate(488,410)"><rect width="4" height="4" fill="url(#tx)"/></g>
<g transform="translate(494,410)"><rect width="4" height="4" fill="url(#tx)"/></g>
<g transform="translate(501,410)"><rect width="8" height="4" fill="url(#tx)"/></g>
<g transform="translate(511,410)"><rect width="11" height="4" fill="url(#tx)"/></g>
<g transform="translate(524,410)"><rect width="6" height="4" fill="url(#tx)"/></g>
<g transform="translate(533,410)"><rect width="6" height="4" fill="url(#tx)"/></g>
<g transform="translate(488,415)"><rect width="7" height="4" fill="url(#tx)"/></g>
<g transform="translate(488,420)"><rect width="7" height="4" fill="url(#tx)"/></g>
<g transform="translate(488,425)"><rect width="7" height="4" fill="url(#tx)"/></g>
<g transform="translate(488,430)"><rect width="7" height="4" fill="url(#tx)"/></g>
<g transform="translate(517,415)"><rect width="5" height="4" fill="url(#tx)"/></g>
<g transform="translate(517,420)"><rect width="5" height="4" fill="url(#tx)"/></g>
<g transform="translate(517,425)"><rect width="5" height="4" fill="url(#tx)"/></g>
<g transform="translate(517,430)"><rect width="5" height="4" fill="url(#tx)"/></g>
<g transform="translate(549,409)"><rect width="10" height="4" fill="url(#tx)"/></g>
<g transform="translate(563,409)"><rect width="5" height="4" fill="url(#tx)"/></g>
<g transform="translate(573,409)"><rect width="3" height="4" fill="url(#tx)"/></g>
<g transform="translate(573,416)"><rect width="3" height="4" fill="url(#tx)"/></g>
<g transform="translate(593,422)"><rect width="13" height="4" fill="url(#tx)"/></g>
<g transform="translate(546,429)"><rect width="3" height="4" fill="url(#tx)"/></g>
<g transform="translate(555,429)"><rect width="5" height="4" fill="url(#tx)"/></g>
<g transform="translate(564,429)"><rect width="4" height="4" fill="url(#tx)"/></g>
<g transform="translate(580,429)"><rect width="2" height="4" fill="url(#tx)"/></g>
</svg></body></html>
